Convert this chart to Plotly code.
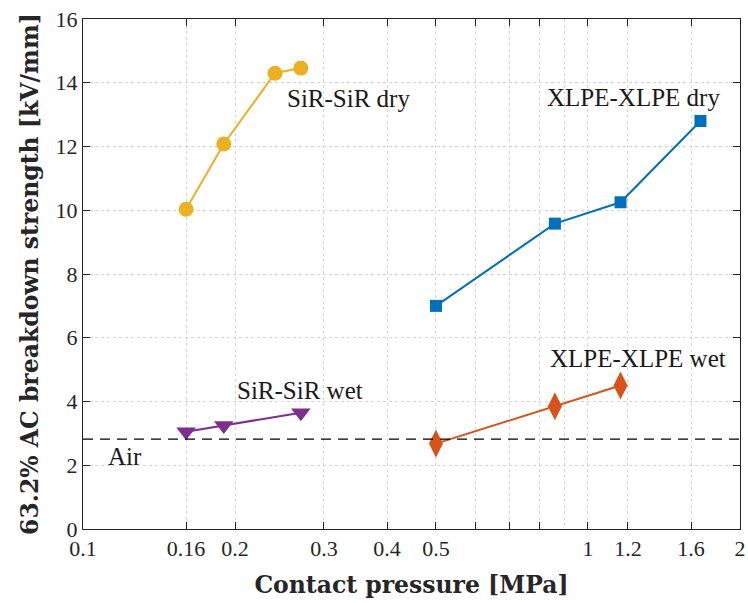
import math
import plotly.graph_objects as go

# Contact pressure [MPa] and 63.2 % AC breakdown strength [kV/mm]
sir_dry_p = [0.16, 0.19, 0.24, 0.27]
sir_dry_e = [10.03, 12.08, 14.30, 14.46]

sir_wet_p = [0.16, 0.19, 0.27]
sir_wet_e = [3.05, 3.25, 3.65]

xlpe_dry_p = [0.50, 0.86, 1.16, 1.67]
xlpe_dry_e = [7.00, 9.58, 10.25, 12.80]

xlpe_wet_p = [0.50, 0.86, 1.16]
xlpe_wet_e = [2.68, 3.85, 4.50]

air_level = 2.82

x_tickvals = [0.1, 0.16, 0.2, 0.3, 0.4, 0.5, 0.6, 0.7, 0.8, 1, 1.2, 1.6, 2]
x_ticktext = ["0.1", "0.16", "0.2", "0.3", "0.4", "0.5", "", "", "", "1", "1.2", "1.6", "2"]
y_tickvals = [0, 2, 4, 6, 8, 10, 12, 14, 16]

SERIF = "Liberation Serif"
TITLE_FONT = "DejaVu Serif"

fig = go.Figure()

series = [
    (sir_dry_p, sir_dry_e, "#EDB120", "circle", 15),
    (sir_wet_p, sir_wet_e, "#7E2F8E", "triangle-down", 17),
    (xlpe_dry_p, xlpe_dry_e, "#0072BD", "square", 12),
    (xlpe_wet_p, xlpe_wet_e, "#D95319", "diamond-tall", 20),
]
for px, py, col, sym, sz in series:
    fig.add_trace(go.Scatter(
        x=px, y=py, mode="lines+markers",
        line=dict(color=col, width=2),
        marker=dict(symbol=sym, size=sz, color=col, line=dict(width=0)),
        showlegend=False,
    ))

# Breakdown level of air
fig.add_trace(go.Scatter(
    x=[0.1, 2], y=[air_level, air_level], mode="lines",
    line=dict(color="black", width=1.2, dash="10px,7px"),
    showlegend=False,
))

# Series labels (pressure in MPa, strength in kV/mm); log axis wants log10 x
labels = [
    ("SiR-SiR dry", 0.251, 13.52),
    ("XLPE-XLPE dry", 0.822, 13.55),
    ("XLPE-XLPE wet", 0.834, 5.36),
    ("SiR-SiR wet", 0.200, 4.36),
    ("Air", 0.111, 2.29),
]
for txt, lx, ly in labels:
    fig.add_annotation(
        x=math.log10(lx), y=ly, xref="x", yref="y", text=txt, showarrow=False,
        xanchor="left", yanchor="middle",
        font=dict(family=SERIF, size=25, color="#1a1a1a"),
    )

fig.update_xaxes(
    type="log", range=[-1, 0.30103], automargin=False,
    tickvals=x_tickvals, ticktext=x_ticktext,
    ticks="inside", ticklen=7, tickcolor="#262626", tickwidth=1,
    showline=True, linecolor="#262626", linewidth=1, mirror="ticks",
    showgrid=True, gridcolor="#d6d6d6", griddash="dot", gridwidth=1,
    minor=dict(tickvals=[0.9], showgrid=True, gridcolor="#d6d6d6",
               griddash="dot", ticks=""),
    tickfont=dict(family=SERIF, size=22, color="#262626"),
    title=dict(text="<b>Contact pressure [MPa]</b>", standoff=16,
               font=dict(family=TITLE_FONT, size=23.5, color="#262626")),
    zeroline=False,
)
fig.update_yaxes(
    range=[0, 16], tickvals=y_tickvals, automargin=False,
    ticks="inside", ticklen=7, tickcolor="#262626", tickwidth=1,
    showline=True, linecolor="#262626", linewidth=1, mirror="ticks",
    showgrid=True, gridcolor="#d6d6d6", griddash="dot", gridwidth=1,
    tickfont=dict(family=SERIF, size=22, color="#262626"),
    title=dict(text="<b>63.2% AC breakdown strength [kV/mm]</b>", standoff=10,
               font=dict(family=TITLE_FONT, size=23.5, color="#262626")),
    zeroline=False,
)

fig.update_layout(
    width=748, height=603,
    margin=dict(l=83, r=8, t=19, b=74),
    paper_bgcolor="white", plot_bgcolor="white",
)

fig.write_html("out.html")
